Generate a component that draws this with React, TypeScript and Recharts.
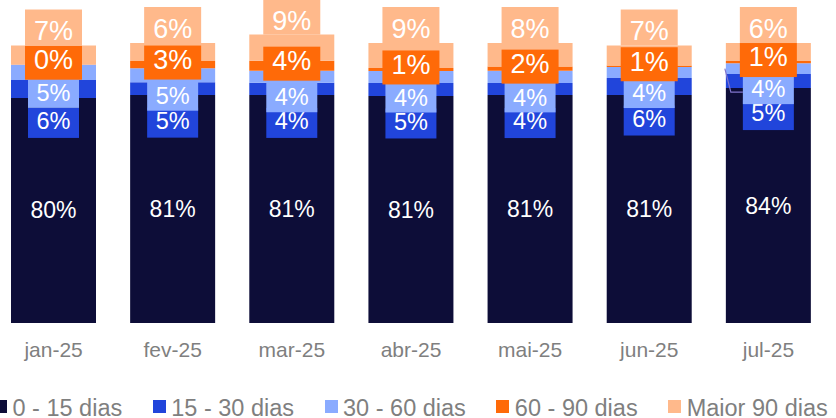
import React from "react";
import { BarChart, Bar, XAxis, YAxis, LabelList } from "recharts";

const categories = ["jan-25", "fev-25", "mar-25", "abr-25", "mai-25", "jun-25", "jul-25"];
const dias0a15 = [80.4, 81.4, 81.4, 81.1, 81.4, 81.4, 83.9];
const dias15a30 = [6.4, 4.6, 4.4, 4.6, 4.3, 6.1, 5.0];
const dias30a60 = [5.4, 5.0, 4.3, 4.3, 4.4, 3.9, 3.9];
const dias60a90 = [0.1, 2.6, 3.6, 1.1, 1.5, 0.6, 0.8];
const maior90 = [6.8, 6.4, 9.3, 8.9, 8.4, 7.1, 6.4];
const leaderCategories = ["jul-25"];

const FONT = "'Liberation Sans', Arial, Helvetica, sans-serif";
const GRAY = "#7f7f7f";

const series = [
  { key: "d0", name: "0 - 15 dias", color: "#0d0d38" },
  { key: "d15", name: "15 - 30 dias", color: "#2145db" },
  { key: "d30", name: "30 - 60 dias", color: "#8aabff" },
  { key: "d60", name: "60 - 90 dias", color: "#ff6a08" },
  { key: "d90", name: "Maior 90 dias", color: "#ffb98b" },
];

const data = categories.map((c, i) => ({
  name: c,
  d0: dias0a15[i],
  d15: dias15a30[i],
  d30: dias30a60[i],
  d60: dias60a90[i],
  d90: maior90[i],
}));

const W = 834;
const H = 418;
const MARGIN = { top: 15, right: 0, bottom: 65, left: 0 };

type LabelCfg = {
  anchor: "top" | "center";
  boxOffset: number;
  textOffset: number;
  boxH: number;
  boxW: number;
  fontSize: number;
  color: string;
  box: boolean;
  leader?: boolean;
};

function geom(props: any) {
  const vb = props.viewBox || {};
  const x = props.x ?? vb.x;
  const y0 = props.y ?? vb.y;
  const w = props.width ?? vb.width;
  const h0 = props.height ?? vb.height;
  const y = Math.min(y0, y0 + h0);
  const h = Math.abs(h0);
  return { x, y, w, h };
}

function makeLabel(cfg: LabelCfg) {
  return (props: any) => {
    const { x, y, w, h } = geom(props);
    if (x == null || y == null) return null;
    const value = props.value;
    const cx = x + w / 2;
    const anchorY = cfg.anchor === "top" ? y : y + h / 2;
    const boxCy = anchorY + cfg.boxOffset;
    const textCy = boxCy + cfg.textOffset;
    const txt = `${Math.round(value)}%`;
    const showLeader = cfg.leader && leaderCategories.includes(categories[props.index]);
    return (
      <g>
        {showLeader && (
          <polyline
            points={`${x - 1},${y + h / 2} ${x + 5},${boxCy + 3} ${cx - cfg.boxW / 2},${boxCy + 3}`}
            fill="none"
            stroke="#8074cc"
            strokeWidth={1.2}
          />
        )}
        {cfg.box && (
          <rect
            x={cx - cfg.boxW / 2}
            y={boxCy - cfg.boxH / 2}
            width={cfg.boxW}
            height={cfg.boxH}
            fill={cfg.color}
          />
        )}
        <text
          x={cx}
          y={textCy}
          dy="0.35em"
          textAnchor="middle"
          fill="#ffffff"
          fontSize={cfg.fontSize}
          fontFamily={FONT}
        >
          {txt}
        </text>
      </g>
    );
  };
}

const labelCfgs: Record<string, LabelCfg> = {
  d0: { anchor: "center", boxOffset: 0, textOffset: 0, boxH: 0, boxW: 0, fontSize: 23, color: series[0].color, box: false },
  d15: { anchor: "center", boxOffset: 34, textOffset: -2, boxH: 30, boxW: 51, fontSize: 23.5, color: series[1].color, box: true },
  d30: { anchor: "center", boxOffset: 20.5, textOffset: 0, boxH: 30, boxW: 51, fontSize: 23.5, color: series[2].color, box: true, leader: true },
  d60: { anchor: "center", boxOffset: -2, textOffset: -3, boxH: 34, boxW: 57, fontSize: 27, color: series[3].color, box: true },
  d90: { anchor: "top", boxOffset: -18, textOffset: 3.5, boxH: 36, boxW: 57, fontSize: 27, color: series[4].color, box: true },
};

function Base({ overlay }: { overlay: boolean }) {
  return (
    <BarChart width={W} height={H} data={data} margin={MARGIN} barSize={85}>
      <XAxis
        dataKey="name"
        axisLine={false}
        tickLine={false}
        height={30}
        tickMargin={13}
        interval={0}
        tick={overlay ? false : { fill: GRAY, fontSize: 21, fontFamily: FONT }}
      />
      <YAxis hide type="number" domain={[0, 110]} />
      {series.map((s) => (
        <Bar
          key={s.key}
          dataKey={s.key}
          name={s.name}
          stackId="a"
          fill={overlay ? "none" : s.color}
          isAnimationActive={false}
        >
          {overlay && <LabelList dataKey={s.key} content={makeLabel(labelCfgs[s.key])} />}
        </Bar>
      ))}
    </BarChart>
  );
}

export default function App() {
  return (
    <div style={{ position: "absolute", left: 0, top: 0, width: 836, height: 418, overflow: "hidden", background: "#fff" }}>
      <div style={{ position: "absolute", left: -6, top: 0 }}>
        <Base overlay={false} />
      </div>
      <div style={{ position: "absolute", left: -6, top: 0 }}>
        <Base overlay={true} />
      </div>
      <div
        style={{
          position: "absolute",
          left: -6,
          top: 397,
          display: "flex",
          whiteSpace: "nowrap",
          fontFamily: FONT,
          fontSize: 23.5,
          lineHeight: "23.5px",
          color: GRAY,
        }}
      >
        {series.map((s) => (
          <div key={s.key} style={{ display: "flex", alignItems: "center", marginRight: 30.5 }}>
            <span
              style={{
                display: "inline-block",
                width: 13,
                height: 13,
                background: s.color,
                marginRight: 5.5,
                position: "relative",
                top: -2,
              }}
            />
            <span>{s.name}</span>
          </div>
        ))}
      </div>
    </div>
  );
}
